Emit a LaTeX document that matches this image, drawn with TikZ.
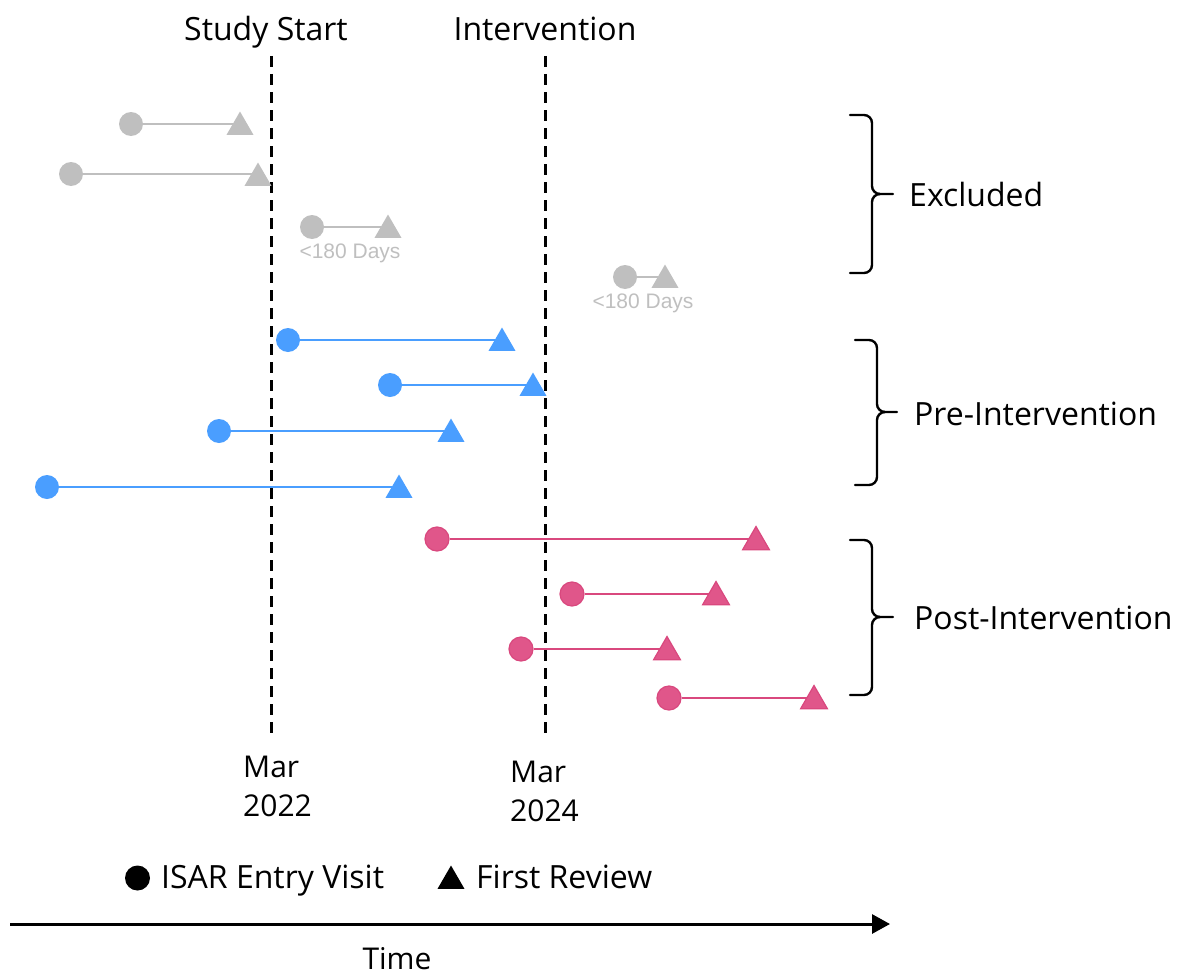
\documentclass[tikz,border=0pt]{standalone}
\usepackage{fontspec}
\setmainfont{Open Sans}
\newfontfamily\smallsans{Liberation Sans}
\usetikzlibrary{shapes.geometric,arrows.meta,backgrounds}

\definecolor{exgrey}{HTML}{BFBFBF}
\definecolor{preblue}{HTML}{4A9EFF}
\definecolor{postpink}{HTML}{E0568A}
\definecolor{postpinkline}{HTML}{D9487E}

\tikzset{
  visit/.style={circle, inner sep=0pt, minimum size=24pt},
  review/.style={regular polygon, regular polygon sides=3, inner sep=0pt, minimum size=31pt},
  exvisit/.style={visit, fill=exgrey},
  exreview/.style={review, fill=exgrey},
  previsit/.style={visit, fill=preblue},
  prereview/.style={review, fill=preblue},
  postvisit/.style={visit, fill=postpink, draw=postpinkline, line width=1.2pt},
  postreview/.style={review, fill=postpink, draw=postpinkline, line width=1.2pt},
  exlink/.style={draw=exgrey, line width=2.9pt},
  prelink/.style={draw=preblue, line width=2.8pt},
  postlink/.style={draw=postpinkline, line width=2.8pt},
  milestone/.style={draw=black, line width=3pt, dash pattern=on 11pt off 7pt},
  lbl/.style={font=\fontsize{32}{38}\selectfont, inner sep=0pt, anchor=base},
  datelbl/.style={font=\fontsize{30}{36}\selectfont, inner sep=0pt, anchor=base west},
  daysnote/.style={font=\smallsans\fontsize{21}{22}\selectfont, text=exgrey, inner sep=0pt},
  groupbrace/.style={draw=black, line width=2.4pt, line cap=round},
  legendtxt/.style={font=\fontsize{32}{38}\selectfont, inner sep=0pt, anchor=base west},
}

\begin{document}
\begin{tikzpicture}[x=1pt, y=-1pt]
\useasboundingbox (0,0) rectangle (1178,974);

% milestone markers
\node[lbl] (start) at (266,41) {Study Start};
\node[lbl] (interv) at (545,41) {Intervention};
\coordinate (startTop) at (271,56);
\coordinate (startBot) at (271,736);
\coordinate (intervTop) at (545,56);
\coordinate (intervBot) at (545,736);
\draw[milestone] (startTop) -- (startBot);
\draw[milestone] (intervTop) -- (intervBot);

% excluded patients
\node[exvisit] (e1c) at (131,124) {};
\node[exreview] (e1t) at (240,127) {};
\node[exvisit] (e2c) at (71,174) {};
\node[exreview] (e2t) at (258,178) {};
\node[exvisit] (e3c) at (312,227) {};
\node[exreview] (e3t) at (388,230) {};
\node[exvisit] (e4c) at (625,277) {};
\node[exreview] (e4t) at (665,280) {};
\node[daysnote] (d3) at (350,253) {<180 Days};
\node[daysnote] (d4) at (643,303) {<180 Days};

% pre-intervention patients
\node[previsit] (p1c) at (288,340) {};
\node[prereview] (p1t) at (502,343) {};
\node[previsit] (p2c) at (390,385) {};
\node[prereview] (p2t) at (533,388) {};
\node[previsit] (p3c) at (219,431) {};
\node[prereview] (p3t) at (451,434) {};
\node[previsit] (p4c) at (47,487) {};
\node[prereview] (p4t) at (399,490) {};

% post-intervention patients
\node[postvisit] (q1c) at (437,539) {};
\node[postreview] (q1t) at (756,542) {};
\node[postvisit] (q2c) at (572,594) {};
\node[postreview] (q2t) at (716,597) {};
\node[postvisit] (q3c) at (521,649) {};
\node[postreview] (q3t) at (667,652) {};
\node[postvisit] (q4c) at (669,698) {};
\node[postreview] (q4t) at (814,701) {};

% links from entry visit to first review, kept horizontal
\begin{scope}[on background layer]
  \draw[exlink] (e1c) -- (e1c -| e1t);
  \draw[exlink] (e2c) -- (e2c -| e2t);
  \draw[exlink] (e3c) -- (e3c -| e3t);
  \draw[exlink] (e4c) -- (e4c -| e4t);
  \draw[prelink] (p1c) -- (p1c -| p1t);
  \draw[prelink] (p2c) -- (p2c -| p2t);
  \draw[prelink] (p3c) -- (p3c -| p3t);
  \draw[prelink] (p4c) -- (p4c -| p4t);
  \draw[postlink] (q1c) -- (q1c -| q1t);
  \draw[postlink] (q2c) -- (q2c -| q2t);
  \draw[postlink] (q3c) -- (q3c -| q3t);
  \draw[postlink] (q4c) -- (q4c -| q4t);
\end{scope}

% group braces
\draw[groupbrace] (850,115) -- (864,115) to[out=0,in=90] (872,123) -- (872,186)
  to[out=-90,in=180] (880,194) -- (893,194);
\draw[groupbrace] (880,194) to[out=180,in=90] (872,202) -- (872,265)
  to[out=-90,in=0] (864,273) -- (850,273);
\node[lbl, anchor=base west] (gEx) at (909,206) {Excluded};

\draw[groupbrace] (855,340) -- (869,340) to[out=0,in=90] (877,348) -- (877,404)
  to[out=-90,in=180] (885,412) -- (897,412);
\draw[groupbrace] (885,412) to[out=180,in=90] (877,420) -- (877,477)
  to[out=-90,in=0] (869,485) -- (855,485);
\node[lbl, anchor=base west] (gPre) at (914,425) {Pre-Intervention};

\draw[groupbrace] (850,540) -- (864,540) to[out=0,in=90] (872,548) -- (872,609)
  to[out=-90,in=180] (880,617) -- (893,617);
\draw[groupbrace] (880,617) to[out=180,in=90] (872,625) -- (872,687)
  to[out=-90,in=0] (864,695) -- (850,695);
\node[lbl, anchor=base west] (gPost) at (914,629) {Post-Intervention};

% dates
\node[datelbl] (m22a) at (243,777) {Mar};
\node[datelbl] (m22b) at (243,816) {2022};
\node[datelbl] (m24a) at (510,782) {Mar};
\node[datelbl] (m24b) at (510,821) {2024};

% legend
\node[visit, fill=black, minimum size=25pt] (legC) at (137.5,878) {};
\node[legendtxt] (legCtxt) at (161,888) {ISAR Entry Visit};
\node[review, fill=black] (legT) at (451,881) {};
\node[legendtxt] (legTtxt) at (476,888) {First Review};

% time axis
\coordinate (ax0) at (10,924);
\coordinate (ax1) at (890,924);
\draw[line width=3pt, -{Triangle[length=18pt,width=19pt]}] (ax0) -- (ax1);
\node[lbl, font=\fontsize{30}{36}\selectfont] (time) at (397,969) {Time};
\end{tikzpicture}
\end{document}
